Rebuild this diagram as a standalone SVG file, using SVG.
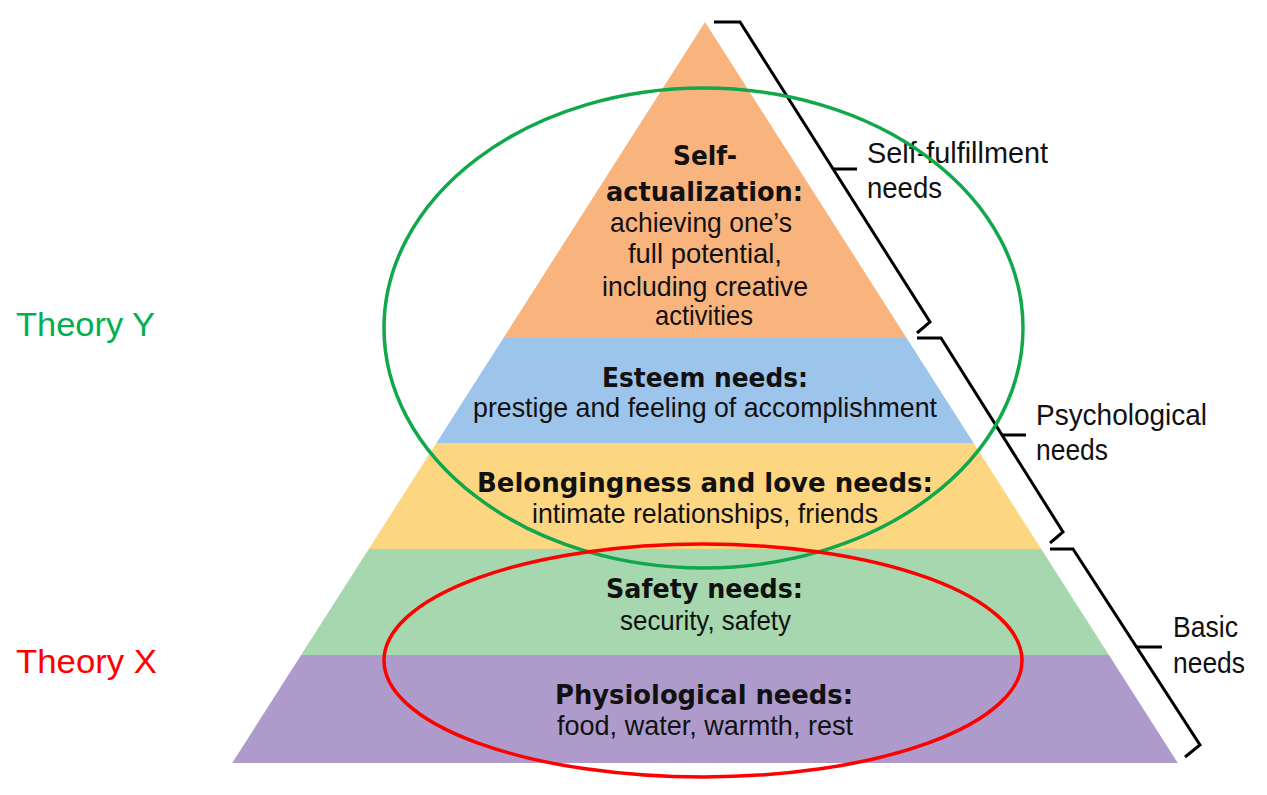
<svg xmlns="http://www.w3.org/2000/svg" width="1267" height="795" viewBox="0 0 1267 795">
<style>
.b{font-family:"DejaVu Sans","Liberation Sans",sans-serif;font-weight:bold;font-size:27px;fill:#111;text-anchor:middle}
.r{font-family:"Liberation Sans","DejaVu Sans",sans-serif;font-size:28px;fill:#111;text-anchor:middle}
.lbl{font-family:"Liberation Sans","DejaVu Sans",sans-serif;font-size:30px;fill:#111}
.th{font-family:"Liberation Sans","Open Sans",sans-serif;font-size:34px}
.br{fill:none;stroke:#000;stroke-width:3;stroke-linejoin:miter}
.el{fill:none;stroke-width:3.5}
</style>
<rect width="1267" height="795" fill="#fff"/>
<g id="level-self-actualization">
<polygon points="705,22 906.6,338 503.4,338" fill="#F9B47E"/>
<text class="b" x="705" y="165" textLength="64" lengthAdjust="spacingAndGlyphs">Self-</text>
<text class="b" x="704.5" y="200.5" textLength="197" lengthAdjust="spacingAndGlyphs">actualization:</text>
<text class="r" x="701" y="232" textLength="182" lengthAdjust="spacingAndGlyphs">achieving one’s</text>
<text class="r" x="705" y="263" textLength="154" lengthAdjust="spacingAndGlyphs">full potential,</text>
<text class="r" x="705" y="296" textLength="206" lengthAdjust="spacingAndGlyphs">including creative</text>
<text class="r" x="704" y="325" textLength="98" lengthAdjust="spacingAndGlyphs">activities</text>
</g>
<g id="level-esteem">
<polygon points="503.4,338 906.6,338 973.6,443 436.4,443" fill="#9DC4EB"/>
<text class="b" x="705" y="387" textLength="206" lengthAdjust="spacingAndGlyphs">Esteem needs:</text>
<text class="r" x="705" y="417" textLength="464" lengthAdjust="spacingAndGlyphs">prestige and feeling of accomplishment</text>
</g>
<g id="level-belongingness">
<polygon points="436.4,443 973.6,443 1041.2,549 368.8,549" fill="#FDD682"/>
<text class="b" x="705" y="492" textLength="456" lengthAdjust="spacingAndGlyphs">Belongingness and love needs:</text>
<text class="r" x="705" y="523" textLength="346" lengthAdjust="spacingAndGlyphs">intimate relationships, friends</text>
</g>
<g id="level-safety">
<polygon points="368.8,549 1041.2,549 1108.9,655 301.1,655" fill="#A6D7AE"/>
<text class="b" x="704.5" y="598" textLength="197" lengthAdjust="spacingAndGlyphs">Safety needs:</text>
<text class="r" x="705.5" y="630" textLength="171" lengthAdjust="spacingAndGlyphs">security, safety</text>
</g>
<g id="level-physiological">
<polygon points="301.1,655 1108.9,655 1177.8,763 232.2,763" fill="#AF9BCB"/>
<text class="b" x="704" y="704" textLength="298" lengthAdjust="spacingAndGlyphs">Physiological needs:</text>
<text class="r" x="705" y="735" textLength="296" lengthAdjust="spacingAndGlyphs">food, water, warmth, rest</text>
</g>
<g id="connectors">
<path class="br" d="M714,22 H740 L930,322 L917,333"/>
<path class="br" d="M834,169 H857"/>
<path class="br" d="M917,338 H941 L1063,532 L1050,543"/>
<path class="br" d="M1002,435 H1026"/>
<path class="br" d="M1050,549 H1073 L1200,745 L1185,757"/>
<path class="br" d="M1137,647 H1162"/>
</g>
<g id="label-self-fulfillment">
<text class="lbl" x="867" y="163" textLength="181" lengthAdjust="spacingAndGlyphs">Self-fulfillment</text>
<text class="lbl" x="867" y="198" textLength="75" lengthAdjust="spacingAndGlyphs">needs</text>
</g>
<g id="label-psychological">
<text class="lbl" x="1036" y="425" textLength="171" lengthAdjust="spacingAndGlyphs">Psychological</text>
<text class="lbl" x="1036" y="460" textLength="72" lengthAdjust="spacingAndGlyphs">needs</text>
</g>
<g id="label-basic">
<text class="lbl" x="1173" y="637" textLength="65" lengthAdjust="spacingAndGlyphs">Basic</text>
<text class="lbl" x="1173" y="673" textLength="72" lengthAdjust="spacingAndGlyphs">needs</text>
</g>
<g id="theory-y">
<ellipse class="el" cx="703.5" cy="328" rx="319.5" ry="240" stroke="#10A84A"/>
<text class="th" x="16" y="336" fill="#00B050" textLength="139" lengthAdjust="spacingAndGlyphs">Theory Y</text>
</g>
<g id="theory-x">
<ellipse class="el" cx="703" cy="660.5" rx="319" ry="116.5" stroke="#FF0000"/>
<text class="th" x="16" y="673" fill="#FF0000" textLength="141" lengthAdjust="spacingAndGlyphs">Theory X</text>
</g>
</svg>
